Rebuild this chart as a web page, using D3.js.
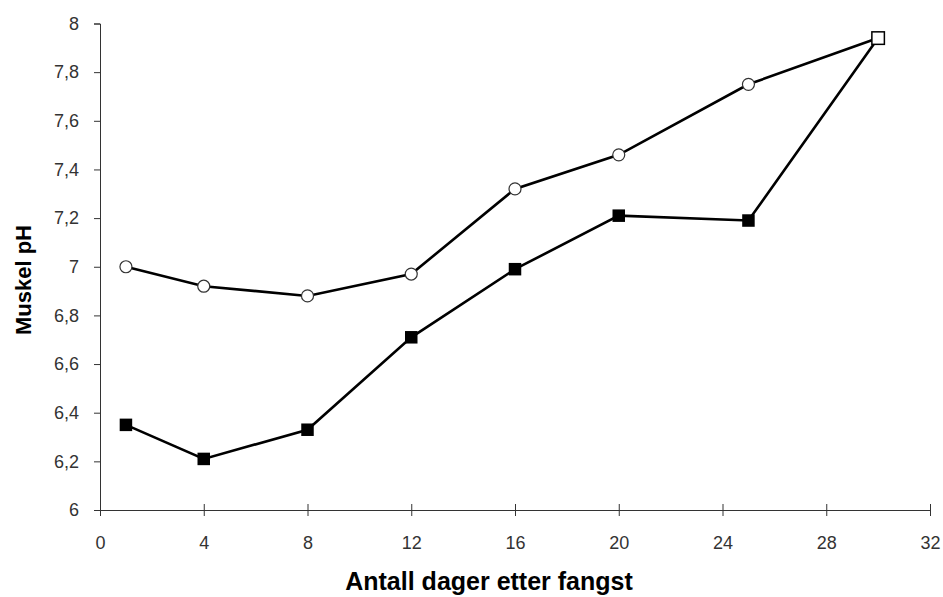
<!DOCTYPE html>
<html>
  <head>
    <meta charset="utf-8" />
    <style>
      body { margin: 0; background: #fff; }
      text { font-family: "Liberation Sans", Arial, sans-serif; }
    </style>
  </head>
  <body>

<svg id="graph"></svg>

<script src="https://d3js.org/d3.v7.min.js"></script>
<script>
  const WIDTH = 943;
  const HEIGHT = 597;

  // dager etter fangst
  const DAGER = [1, 4, 8, 12, 16, 20, 25, 30];
  // aapne sirkler
  const SERIE_SIRKEL = [7.00, 6.92, 6.88, 6.97, 7.32, 7.46, 7.75, 7.94];
  // fylte firkanter
  const SERIE_FIRKANT = [6.35, 6.21, 6.33, 6.71, 6.99, 7.21, 7.19, 7.94];

  const X_TICKS = [0, 4, 8, 12, 16, 20, 24, 28, 32];
  const Y_TICKS = [6, 6.2, 6.4, 6.6, 6.8, 7, 7.2, 7.4, 7.6, 7.8, 8];

  const svg = d3.select('#graph')
    .attr('width', WIDTH)
    .attr('height', HEIGHT);

  const x = d3.scaleLinear().domain([0, 32]).range([100, 930]);
  const y = d3.scaleLinear().domain([6, 8]).range([510, 23.5]);

  const komma = d => String(d).replace('.', ',');

  // y-akse
  const yAxis = svg.append('g')
    .attr('transform', `translate(${x(0)},0)`)
    .call(d3.axisLeft(y).tickValues(Y_TICKS).tickFormat(komma).tickSize(6).tickPadding(15));

  // x-akse, kryssende merker
  const xAxis = svg.append('g')
    .attr('transform', `translate(0,${y(6)})`)
    .call(d3.axisBottom(x).tickValues(X_TICKS).tickSize(6).tickPadding(28));
  xAxis.selectAll('.tick line').attr('y1', -6);

  [yAxis, xAxis].forEach(g => {
    g.select('.domain').attr('stroke', '#333');
    g.selectAll('.tick line').attr('stroke', '#333');
    g.selectAll('.tick text')
      .attr('fill', '#333')
      .style('font-size', '18px');
  });
  xAxis.selectAll('.tick text').attr('dy', '0.3em');

  const line = d3.line()
    .x((d, i) => x(DAGER[i]))
    .y(d => y(d));

  [SERIE_SIRKEL, SERIE_FIRKANT].forEach(s => {
    svg.append('path')
      .datum(s)
      .attr('d', line)
      .attr('fill', 'none')
      .attr('stroke', '#000')
      .attr('stroke-width', 2.6);
  });

  svg.selectAll('circle.sirkel')
    .data(SERIE_SIRKEL)
    .enter()
    .append('circle')
    .attr('class', 'sirkel')
    .attr('cx', (d, i) => x(DAGER[i]))
    .attr('cy', d => y(d))
    .attr('r', 6)
    .attr('fill', '#fff')
    .attr('stroke', '#333')
    .attr('stroke-width', 1.2);

  // firkanter tegnes over; der seriene faller sammen blir firkanten aapen
  const S = 12.5;
  svg.selectAll('rect.firkant')
    .data(SERIE_FIRKANT)
    .enter()
    .append('rect')
    .attr('class', 'firkant')
    .attr('x', (d, i) => x(DAGER[i]) - S / 2)
    .attr('y', d => y(d) - S / 2)
    .attr('width', S)
    .attr('height', S)
    .attr('fill', (d, i) => d === SERIE_SIRKEL[i] ? '#fff' : '#000')
    .attr('stroke', '#000')
    .attr('stroke-width', (d, i) => d === SERIE_SIRKEL[i] ? 1.5 : 0);

  svg.append('text')
    .attr('x', 489)
    .attr('y', 590)
    .attr('text-anchor', 'middle')
    .style('font-size', '25px')
    .style('font-weight', 'bold')
    .text('Antall dager etter fangst');

  svg.append('text')
    .attr('transform', 'translate(31,280) rotate(-90)')
    .attr('text-anchor', 'middle')
    .style('font-size', '22px')
    .style('font-weight', 'bold')
    .text('Muskel pH');
</script>
  </body>
</html>
